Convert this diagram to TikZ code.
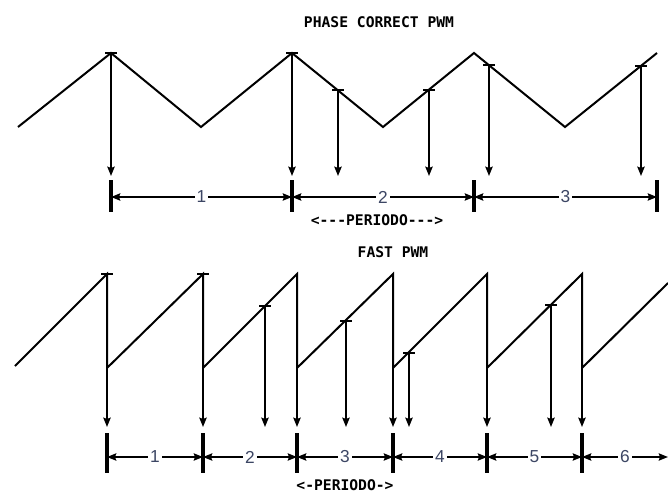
\documentclass[tikz,border=0pt]{standalone}
\usepackage{fontspec}
\setmainfont{Liberation Sans}
\setmonofont{DejaVu Sans Mono}
\usepackage{xcolor}
\usetikzlibrary{arrows.meta,positioning}
\definecolor{numcol}{RGB}{60,70,100}

\begin{document}
\begin{tikzpicture}[x=0.75pt,y=-0.75pt,>={Stealth[length=7pt,width=5.5pt,inset=1pt]},
  wave/.style={line width=1.5pt,line join=miter},
  drop/.style={->,line width=1.3pt},
  tbar/.style={line width=1.3pt},
  tick/.style={line width=2.4pt},
  dim/.style={<->,line width=1.1pt},
  numlab/.style={fill=white,inner sep=1.5pt,text=numcol,font=\fontsize{13}{13}\selectfont},
  ttl/.style={font=\fontsize{11}{11}\selectfont\ttfamily\bfseries}]
  \useasboundingbox (0,0) rectangle (668,493);

  % phase correct
  \node[ttl] (pctitle) at (379,22) {PHASE CORRECT PWM};
  \draw[wave] (18,127) -- (111,53) -- (201,127) -- (292,53) -- (383,127)
    -- (474,53) -- (565,127) -- (657,53);
  \foreach \x/\y in {111/53,292/53,338/90,429/90,489/65,641/66}{
    \draw[drop] (\x,\y) -- (\x,176);
    \draw[tbar] (\x-6,\y) -- (\x+6,\y);
  }
  \foreach \x [count=\i] in {111,292,474,657}{
    \draw[tick] (\x,180) -- (\x,212);
    \coordinate (pc\i) at (\x,197);
  }
  \draw[dim] (pc1) -- node[numlab] {1} (pc2);
  \draw[dim] (pc2) -- node[numlab] {2} (pc3);
  \draw[dim] (pc3) -- node[numlab] {3} (pc4);
  \node[ttl] (pcper) at (377,220) {<{-}{-}{-}PERIODO{-}{-}{-}>};

  % fast pwm
  \node[ttl] (fptitle) at (393,252) {FAST PWM};
  \draw[wave] (15,366) -- (107,274) -- (107,368) -- (203,274) -- (203,368)
    -- (297,274) -- (297,368) -- (393,274) -- (393,368) -- (487,274)
    -- (487,368) -- (582,274) -- (582,368) -- (668,283);
  \foreach \x in {297,393,487,582}{
    \draw[drop] (\x,274) -- (\x,427);
  }
  \foreach \x/\y in {107/274,203/274,265/306,346/321,409/353,551/305}{
    \draw[drop] (\x,\y) -- (\x,427);
    \draw[tbar] (\x-6,\y) -- (\x+6,\y);
  }
  \foreach \x/\w [count=\i] in {107/2.4,203/2.4,297/2.4,393/2.4,487/3,582/3}{
    \draw[tick,line width=\w pt] (\x,433) -- (\x,473);
    \coordinate (fp\i) at (\x,457);
  }
  \coordinate (fp7) at (668,457);
  \foreach \i [evaluate=\i as \j using int(\i+1)] in {1,...,6}{
    \draw[dim] (fp\i) -- node[numlab] {\i} (fp\j);
  }
  \node[ttl] (fpper) at (345,485) {<{-}PERIODO{-}>};
\end{tikzpicture}
\end{document}
